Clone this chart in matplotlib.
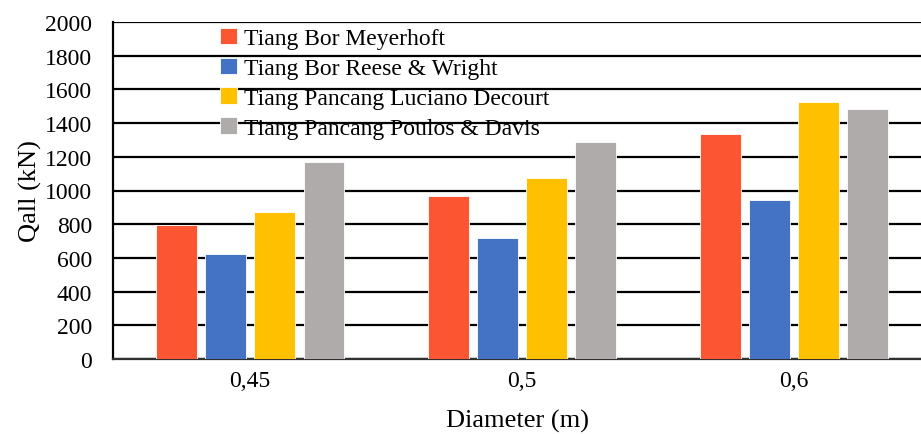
import numpy as np
import matplotlib.pyplot as plt

plt.rcParams['font.family'] = ['Liberation Serif', 'DejaVu Serif']

diameters = ["0,45", "0,5", "0,6"]
series = ["Tiang Bor Meyerhoft", "Tiang Bor Reese & Wright",
          "Tiang Pancang Luciano Decourt", "Tiang Pancang Poulos & Davis"]
meyerhoft = [795, 967, 1333]
reese_wright = [623, 716, 942]
luciano = [872, 1072, 1527]
poulos = [1169, 1288, 1482]
colors = ["#FC5531", "#4472C4", "#FFC000", "#AFABAB"]

fig = plt.figure(figsize=(9.21, 4.35), dpi=100)
ax = fig.add_axes([113/921, 1-360/435, (921-113)/921, (360-23)/435])

x = np.arange(len(diameters))
w = 0.15
pitch = 0.181
for i, (vals, lab) in enumerate(zip([meyerhoft, reese_wright, luciano, poulos], series)):
    ax.bar(x + (i-1.5)*pitch, vals, w, color=colors[i], edgecolor='white',
           linewidth=0.6, label=lab, zorder=3)

ax.set_ylim(0, 2000)
ax.set_yticks(range(0, 2001, 200))
ax.set_xlim(-0.504, 2.467)
ax.set_xticks(x)
ax.set_xticklabels(diameters)
ax.yaxis.grid(True, color='black', linewidth=1.6, zorder=1)
ax.set_axisbelow(True)
ax.tick_params(length=0, labelsize=17)
ax.tick_params(axis='y', pad=15)
ax.tick_params(axis='x', pad=8)
for s in ['top', 'right']:
    ax.spines[s].set_visible(False)
ax.spines['left'].set_linewidth(1.6)
ax.spines['bottom'].set_linewidth(1.6)
ax.spines['bottom'].set_color('#303030')

ax.set_ylabel("Qall (kN)", fontsize=19, labelpad=2)
ax.set_xlabel("Diameter (m)", fontsize=19, labelpad=13)

leg = ax.legend(loc='upper left', bbox_to_anchor=(0.115, 1.025), frameon=False,
                fontsize=17, handlelength=0.7, handleheight=0.7,
                handletextpad=0.3, labelspacing=0.35, borderaxespad=0.2)

fig.savefig("out.png", dpi=100)
